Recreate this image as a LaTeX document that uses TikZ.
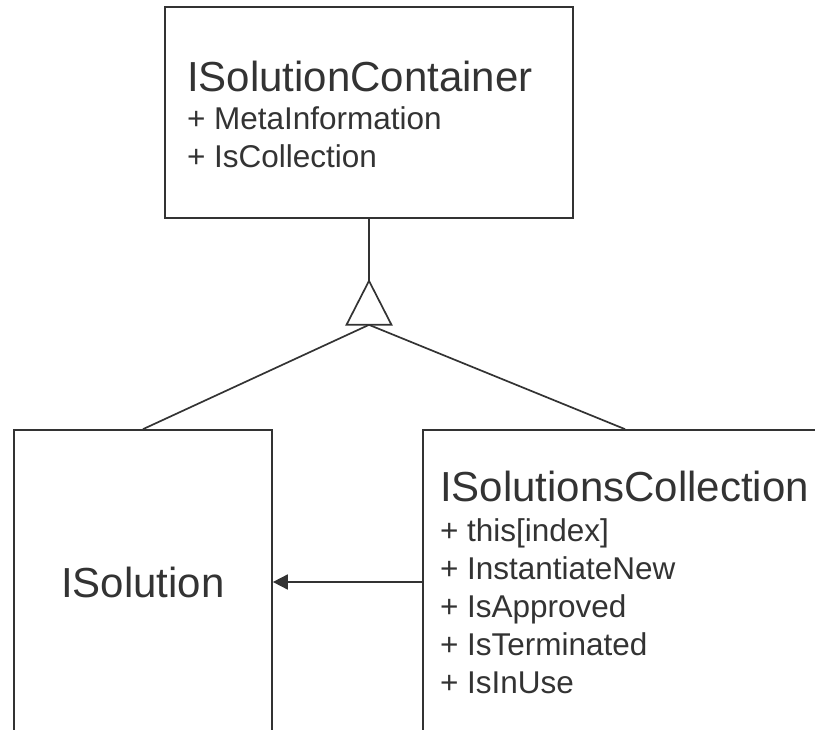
\documentclass[tikz,border=0pt]{standalone}
\usepackage{fontspec}
\setmainfont{Liberation Sans}
\usetikzlibrary{positioning}
\usetikzlibrary{arrows.meta}
\definecolor{umlgray}{HTML}{333333}

\begin{document}
\begin{tikzpicture}[x=1pt,y=-1pt,line width=1.7pt,color=umlgray,
    class box/.style={rectangle,draw,inner sep=0pt},
    big text/.style={font=\fontsize{42}{50}\selectfont},
    title/.style={big text,inner sep=0pt,anchor=base west},
    member/.style={inner sep=0pt,anchor=base west,font=\fontsize{31.5}{38}\selectfont}]

  \useasboundingbox (0,0) rectangle (815,730);
  \clip (0,0) rectangle (815,730);

  % class boxes
  \node[class box,minimum width=408pt,minimum height=211pt] (container) at (369,112.5) {};
  \node[class box,big text,minimum width=258pt,minimum height=304pt] (solution) at (143,582) {ISolution};
  \node[class box,minimum width=404pt,minimum height=304pt] (collection) at (625,582) {};

  % ISolutionContainer
  \node[title] (containername) at ([shift={(22,85)}]container.north west) {ISolutionContainer};
  \node[member] (meta) at ([yshift=-38pt]containername.base west) {+ MetaInformation};
  \node[member] (iscoll) at ([yshift=-38pt]meta.base west) {+ IsCollection};

  % ISolutionsCollection
  \node[title] (collectionname) at ([shift={(17,72)}]collection.north west) {ISolutionsCollection};
  \node[member] (index) at ([yshift=-40pt]collectionname.base west) {+ this[index]};
  \node[member] (instnew) at ([yshift=-38pt]index.base west) {+ InstantiateNew};
  \node[member] (approved) at ([yshift=-38pt]instnew.base west) {+ IsApproved};
  \node[member] (terminated) at ([yshift=-38pt]approved.base west) {+ IsTerminated};
  \node[member] (inuse) at ([yshift=-38pt]terminated.base west) {+ IsInUse};

  % generalisation
  \coordinate (tip) at ([yshift=-62pt]container.south);
  \coordinate (base) at ([yshift=-106pt]container.south);
  \draw (container) -- (tip);
  \draw (tip) -- ++(-22.5,44) -- ++(45,0) -- cycle;
  \draw (base) -- (solution.north);
  \draw (base) -- (collection.north);

  % association
  \draw[-{Triangle[length=15pt,width=15pt]}] (collection.west) -- (solution.east);
\end{tikzpicture}
\end{document}
